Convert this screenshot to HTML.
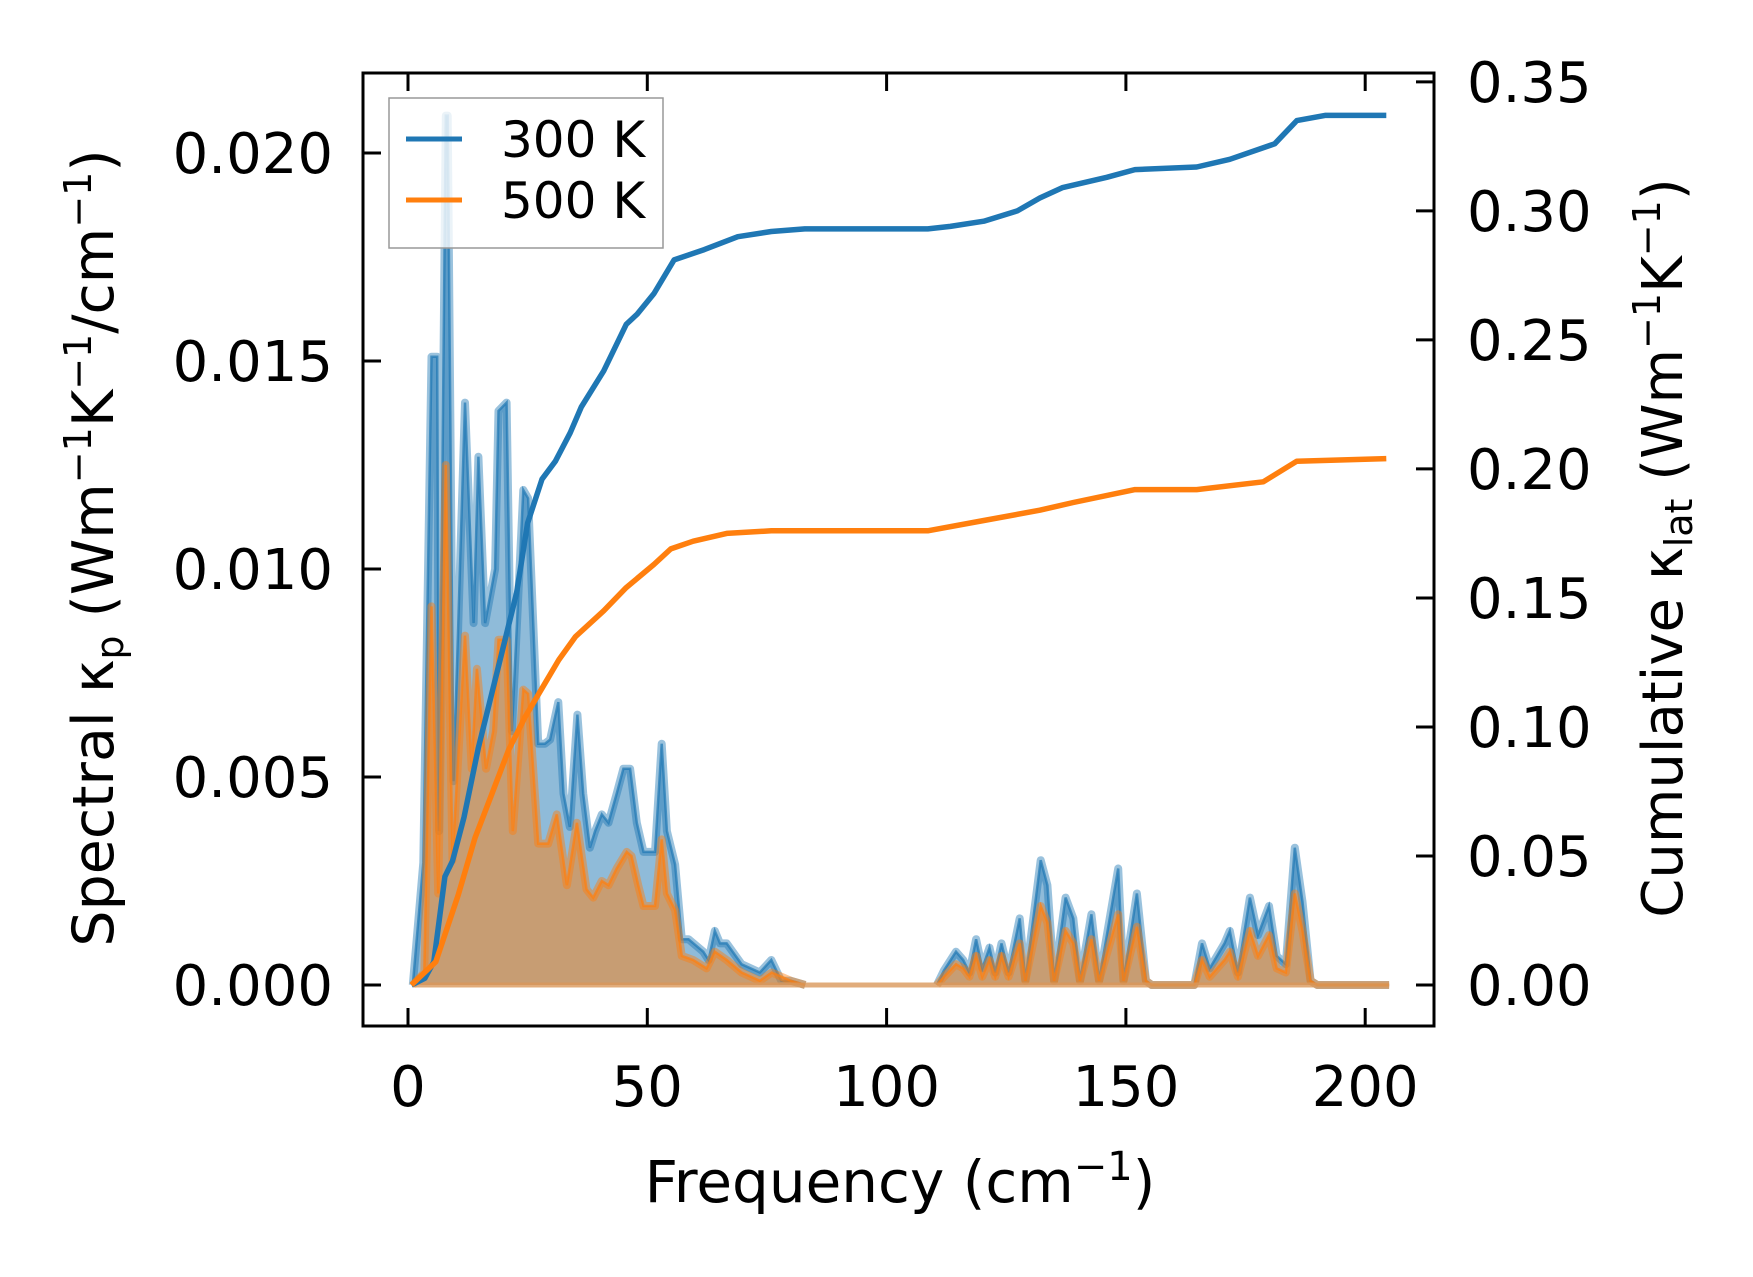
<!DOCTYPE html>
<html><head><meta charset="utf-8"><style>
body{margin:0;background:#fff}
svg{display:block;font-family:"DejaVu Sans","Liberation Sans",sans-serif}
</style></head><body>
<svg id="chart" width="1753" height="1277" viewBox="0 0 1753 1277" xmlns="http://www.w3.org/2000/svg">
<rect width="1753" height="1277" fill="#fff"/>
<g id="plot"></g>
<rect x="363" y="73" width="1071" height="953" fill="none" stroke="#000" stroke-width="3"/>
<g id="ticks"></g>
<g>
<rect x="389" y="98" width="274" height="150" fill="#fff" fill-opacity="0.8" stroke="#999" stroke-width="1.5"/>
<line x1="406" y1="139" x2="462" y2="139" stroke="#1f77b4" stroke-width="5"/>
<text x="501" y="157" font-size="50">300 K</text>
<line x1="406" y1="200" x2="462" y2="200" stroke="#ff7f0e" stroke-width="5"/>
<text x="501" y="218" font-size="50">500 K</text>
</g>
<text x="900" y="1202" font-size="58" text-anchor="middle">Frequency (cm<tspan dy="-22" font-size="40">−1</tspan><tspan dy="22">)</tspan></text>
<text transform="translate(113,548) rotate(-90)" font-size="57" text-anchor="middle">Spectral κ<tspan dy="10" font-size="38">p</tspan><tspan dy="-10"> (Wm</tspan><tspan dy="-22" font-size="38">−1</tspan><tspan dy="22">K</tspan><tspan dy="-22" font-size="38">−1</tspan><tspan dy="22">/cm</tspan><tspan dy="-22" font-size="38">−1</tspan><tspan dy="22">)</tspan></text>
<text transform="translate(1682,548) rotate(-90)" font-size="56" text-anchor="middle">Cumulative κ<tspan dy="10" font-size="38">lat</tspan><tspan dy="-10"> (Wm</tspan><tspan dy="-22" font-size="38">−1</tspan><tspan dy="22">K</tspan><tspan dy="-22" font-size="38">−1</tspan><tspan dy="22">)</tspan></text>
</svg>
<script>
const freqLow300 = [1,3.2,4.9,6.1,6.5,7.9,8.3,9.5,11.9,13.7,14.7,16.1,18.2,18.9,20.6,21.7,24.1,25.1,27.2,28.6,29.7,31.4,32.5,33.8,35.4,36.6,38,39.1,40.5,41.9,43.6,45,46.4,47.8,49.2,51.6,53,54.1,55.8,57.2,58.6,61.7,62.8,64.1,65.2,66.6,69.7,73.5,75.9,78,80,83];
const spec300Low = [0,.00294,.0151,.0151,.0037,.0209,.0209,.0049,.014,.0087,.0127,.0087,.01,.0138,.014,.0061,.0119,.0117,.0058,.0058,.0059,.0068,.0046,.0038,.0065,.0046,.0033,.0037,.0041,.0039,.0046,.0052,.0052,.0039,.0032,.0032,.0058,.0037,.0029,.0011,.0011,.0008,.0006,.0013,.001,.001,.0005,.0003,.0006,.0001,.0001,0];
const freqLow500 = [1,3.4,4.9,6.3,7.9,9.3,11.9,13.3,14.4,16.3,17.8,18.9,20.6,21.9,24.1,25.1,27.2,29.3,31.1,33.2,35.3,37.3,38.7,40.5,41.9,43.6,45.7,46.7,48.1,49.2,51.6,53,54.1,55.8,57.2,59.6,62.4,64.1,66.6,69.7,73.5,76,80,83];
const spec500Low = [0,.0003,.0091,.0022,.0125,.003,.0084,.0052,.0076,.0052,.0061,.0083,.0083,.0037,.0071,.007,.0034,.0034,.0041,.0024,.0039,.0023,.0021,.0025,.0024,.0028,.0032,.0031,.0024,.0019,.0019,.0035,.0022,.0018,.0007,.0006,.0004,.0008,.0006,.0003,.0001,.0003,.0001,0];
const freqHigh = [110.5,112,114.5,116,117.3,118.7,120,121.5,122.7,124,125.5,127.8,129,132.2,133.6,135,137.4,139,140.4,142.8,144.4,148.4,149.5,152.3,154.2,155.4,164.3,165.9,167.5,170.6,171.7,173.4,175.9,177.6,179.9,181.5,183.4,185.3,186.9,188.6,190,205];
const spec300High = [0,.00035,.0008,.0006,.0003,.0011,.0004,.0009,.0003,.001,.0003,.0016,.0001,.003,.0024,.0001,.0021,.0016,.0001,.0017,.0001,.0028,.0001,.0022,.0001,0,0,.001,.0004,.001,.0013,.0003,.0021,.0012,.0019,.0007,.0005,.0033,.002,.0001,0,0];
const spec500High = [0,.0002,.0005,.0004,.0002,.0007,.0002,.0006,.0002,.0007,.0002,.001,.0001,.0019,.0015,.0001,.0013,.001,.0001,.0011,.0001,.0017,.0001,.0014,.0001,0,0,.0006,.0002,.0006,.0008,.0002,.0013,.0007,.0012,.0004,.0003,.0022,.0013,.0001,0,0];
const freqCum300 = [0.7,3.5,5.4,7.7,9.3,11.7,14.7,17.5,20.3,22.7,25,28,30.8,33.9,36.2,40.9,45.6,47.9,51.4,55.6,61.9,68.9,75.9,82.9,108.6,113.3,120.3,127.3,132,136.7,146,151.9,164.8,171.7,181.1,185.7,191.6,204.4];
const cum300 = [0,.0026,.009,.042,.048,.065,.092,.113,.134,.152,.179,.196,.203,.214,.224,.238,.256,.26,.268,.281,.285,.29,.292,.293,.293,.294,.296,.3,.305,.309,.313,.316,.317,.32,.326,.335,.337,.337];
const freqCum500 = [0.7,5.8,10.5,14,17.5,21,24.5,28,31.5,35,40.9,45.6,51.4,54.9,59.6,66.6,75.9,108.6,120.3,132,139,151.9,164.8,178.7,185.7,204.4];
const cum500 = [0,.009,.035,.057,.074,.091,.104,.115,.126,.135,.145,.154,.163,.169,.172,.175,.176,.176,.18,.184,.187,.192,.192,.195,.203,.204];
const xTicks = [0,50,100,150,200];
const leftTicks = [0,0.005,0.01,0.015,0.02];
const leftTickLabels = ["0.000","0.005","0.010","0.015","0.020"];
const rightTicks = [0,0.05,0.1,0.15,0.2,0.25,0.3,0.35];
const rightTickLabels = ["0.00","0.05","0.10","0.15","0.20","0.25","0.30","0.35"];

const NS="http://www.w3.org/2000/svg";
const xs = f => 408 + f*4.786;
const yl = v => 985 - v*41600;
const yr = c => 985 - c*2580.4;
const plot=document.getElementById('plot');
const ticks=document.getElementById('ticks');
function mk(tag,parent,attrs){const e=document.createElementNS(NS,tag);for(const k in attrs)e.setAttribute(k,attrs[k]);parent.appendChild(e);return e;}
function pts(fx,vy,ys){return fx.map((f,i)=>xs(f).toFixed(1)+','+ys(vy[i]).toFixed(1)).join(' ');}
function area(fx,vy,color,name){
  const p=pts(fx,vy,yl);
  const poly=mk('polygon',plot,{points:xs(fx[0])+','+yl(0)+' '+p+' '+xs(fx[fx.length-1])+','+yl(0),fill:color,'fill-opacity':0.5,stroke:'none'});
  
  
  const l=mk('polyline',plot,{points:p,fill:'none',stroke:color,'stroke-width':8,'stroke-opacity':0.45,'stroke-linejoin':'round'});
  
  
  const l2=mk('polyline',plot,{points:p,fill:'none',stroke:color,'stroke-width':2.5,'stroke-opacity':0.7});
  
  
}
area(freqLow300,spec300Low,'#1f77b4','spectral-300k-low');
area(freqHigh,spec300High,'#1f77b4','spectral-300k-high');
area(freqLow500,spec500Low,'#ff7f0e','spectral-500k-low');
area(freqHigh,spec500High,'#ff7f0e','spectral-500k-high');
const base=mk('line',plot,{x1:xs(1),x2:xs(205),y1:yl(0),y2:yl(0),stroke:'#d9975a','stroke-width':5,'stroke-opacity':0.8});


const c3=mk('polyline',plot,{points:pts(freqCum300,cum300,yr),fill:'none',stroke:'#1f77b4','stroke-width':5.5,'stroke-linejoin':'round'});


const c5=mk('polyline',plot,{points:pts(freqCum500,cum500,yr),fill:'none',stroke:'#ff7f0e','stroke-width':5.5,'stroke-linejoin':'round'});



xTicks.forEach(t=>{
  const x=xs(t);
  mk('line',ticks,{x1:x,x2:x,y1:1026,y2:1008,stroke:'#000','stroke-width':3});
  mk('line',ticks,{x1:x,x2:x,y1:73,y2:91,stroke:'#000','stroke-width':3});
  const tx=mk('text',ticks,{x:x,y:1106,'font-size':56,'text-anchor':'middle'});
  tx.textContent=t;
  
  
});
leftTicks.forEach((t,i)=>{
  const y=yl(t);
  mk('line',ticks,{x1:363,x2:381,y1:y,y2:y,stroke:'#000','stroke-width':3});
  const tx=mk('text',ticks,{x:333,y:y+20,'font-size':56,'text-anchor':'end'});
  tx.textContent=leftTickLabels[i];
  
  
});
rightTicks.forEach((t,i)=>{
  const y=yr(t);
  mk('line',ticks,{x1:1434,x2:1416,y1:y,y2:y,stroke:'#000','stroke-width':3});
  const tx=mk('text',ticks,{x:1467,y:y+20,'font-size':56,'text-anchor':'start'});
  tx.textContent=rightTickLabels[i];
  
  
});
</script>
</body></html>
